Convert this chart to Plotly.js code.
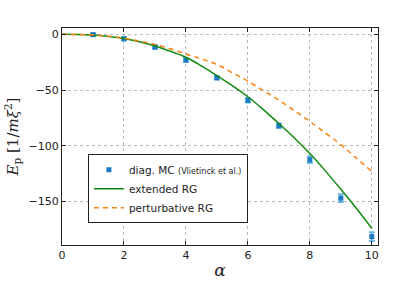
<!DOCTYPE html>
<html><head><meta charset="utf-8">
<script src="https://cdn.plot.ly/plotly-3.0.1.min.js"></script>
<style>html,body{margin:0;padding:0;background:#fff}#g{width:415px;height:281px}</style>
</head><body><div id="g"></div>
<script>
const mcAlpha = [1,2,3,4,5,6,7,8,9,10];
const mcEnergy = [-0.3,-4,-11.4,-23,-39,-59.2,-82,-112.5,-147,-181.5];
const mcError = [1.2,1.2,1.5,1.5,1.5,2,2,3,3.5,4];
const rgAlpha = [0,0.5,1,1.5,2,2.5,3,3.5,4,4.5,5,5.5,6,6.5,7,7.5,8,8.5,9,9.5,10];
const extRG = [0,-0.1,-0.6,-1.9,-3.8,-6.7,-10.5,-15.2,-20.5,-28.3,-37,-46,-56,-67.5,-80,-93,-107,-122.5,-139,-156,-174];
const pertRG = [0,-0.1,-0.6,-1.7,-3.5,-6,-9,-13,-17.7,-22,-27,-34.5,-42,-50.5,-59,-68.5,-78,-88.5,-99,-111,-123];

const traces = [
  {x: mcAlpha, y: mcEnergy, type:'scatter', mode:'markers',
   name:'diag. MC <span style="font-size:8px">(Vlietinck et al.)</span>',
   marker:{symbol:'square', size:5, color:'#1a7ac4'},
   error_y:{type:'data', array:mcError, visible:true, color:'rgba(60,160,225,0.75)', thickness:2, width:3}},
  {x: rgAlpha, y: extRG, type:'scatter', mode:'lines', name:'extended RG',
   line:{color:'#108a10', width:1.5, shape:'spline'}},
  {x: rgAlpha, y: pertRG, type:'scatter', mode:'lines', name:'perturbative RG',
   line:{color:'#ff7f0e', width:1.5, dash:'5px,4px', shape:'spline'}}
];

const axisCommon = {
  showline:true, mirror:'ticks', linecolor:'#222', linewidth:1,
  ticks:'inside', ticklen:4, tickcolor:'#222',
  showgrid:true, gridcolor:'#bbbbbb', griddash:'dot', gridwidth:1,
  zeroline:false,
  tickfont:{family:'DejaVu Sans, sans-serif', size:11, color:'#222'}
};

const layout = {
  width:415, height:281,
  margin:{l:62, r:37, t:28, b:36},
  paper_bgcolor:'#fff', plot_bgcolor:'#fff',
  showlegend:true,
  legend:{x:0.082, y:0.418, xanchor:'left', yanchor:'top',
    bordercolor:'#222', borderwidth:1, bgcolor:'#fff',
    font:{family:'DejaVu Sans, sans-serif', size:10.5, color:'#222'},
    tracegroupgap:0, itemwidth:30},
  xaxis: Object.assign({}, axisCommon, {range:[0,10.2], tickvals:[0,2,4,6,8,10],
    title:{text:'<i>α</i>', font:{family:'DejaVu Serif, serif', size:17, color:'#222'}, standoff:2}}),
  yaxis: Object.assign({}, axisCommon, {range:[-189,5.7], tickvals:[0,-50,-100,-150],
    title:{text:'<i>E</i><sub>p</sub> [1/<i>mξ</i><sup>2</sup>]', font:{family:'DejaVu Serif, serif', size:15, color:'#222'}, standoff:6}})
};

Plotly.newPlot('g', traces, layout, {displayModeBar:false, staticPlot:true});
</script>
</body></html>
